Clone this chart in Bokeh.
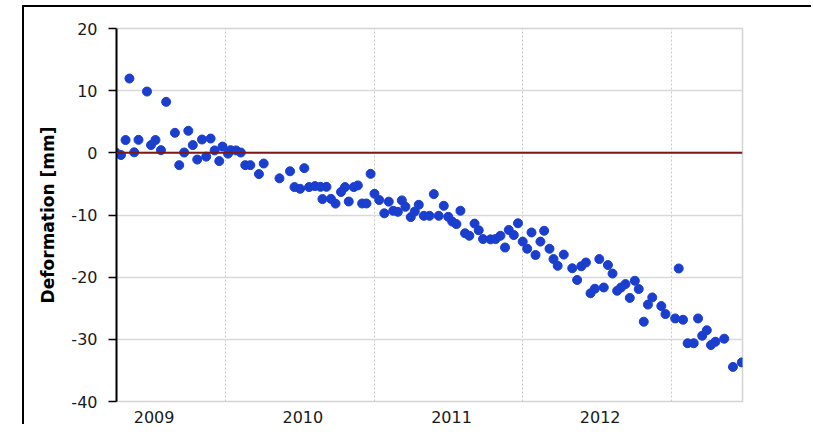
from bokeh.plotting import figure
from bokeh.models import FixedTicker, Span, Range1d
from bokeh.layouts import column
from bokeh.embed import file_html
from bokeh.resources import INLINE

# acquisition dates (decimal years) and deformation (mm)
dates = [
    2009.262, 2009.297, 2009.328, 2009.354, 2009.386, 2009.415, 2009.472, 2009.499, 2009.529, 2009.566,
    2009.601, 2009.660, 2009.689, 2009.722, 2009.750, 2009.780, 2009.810, 2009.842, 2009.870, 2009.900,
    2009.927, 2009.958, 2009.980, 2010.017, 2010.034, 2010.071, 2010.103, 2010.133, 2010.167, 2010.225,
    2010.257, 2010.363, 2010.434, 2010.464, 2010.502, 2010.530, 2010.562, 2010.601, 2010.639, 2010.652,
    2010.679, 2010.709, 2010.740, 2010.777, 2010.804, 2010.829, 2010.863, 2010.890, 2010.919, 2010.948,
    2010.976, 2011.002, 2011.034, 2011.068, 2011.098, 2011.128, 2011.159, 2011.186, 2011.210, 2011.246,
    2011.273, 2011.300, 2011.334, 2011.372, 2011.401, 2011.434, 2011.468, 2011.498, 2011.525, 2011.553,
    2011.580, 2011.611, 2011.640, 2011.675, 2011.703, 2011.732, 2011.782, 2011.816, 2011.849, 2011.880,
    2011.905, 2011.939, 2011.967, 2011.999, 2012.029, 2012.058, 2012.085, 2012.118, 2012.143, 2012.179,
    2012.206, 2012.234, 2012.275, 2012.332, 2012.365, 2012.393, 2012.424, 2012.455, 2012.484, 2012.514,
    2012.544, 2012.572, 2012.603, 2012.634, 2012.660, 2012.690, 2012.719, 2012.753, 2012.779, 2012.813,
    2012.841, 2012.870, 2012.931, 2012.959, 2013.024, 2013.048, 2013.077, 2013.108, 2013.149, 2013.178,
    2013.206, 2013.237, 2013.265, 2013.295, 2013.354, 2013.413, 2013.472,
]
deformation = [
    0.05, -0.35, 2.06, 11.95, 0.08, 2.09, 9.86, 1.25, 2.06, 0.43,
    8.20, 3.22, -1.98, 0.05, 3.54, 1.25, -1.08, 2.14, -0.61, 2.30,
    0.39, -1.33, 1.01, -0.13, 0.43, 0.39, 0.05, -1.98, -1.98, -3.42,
    -1.72, -4.10, -2.97, -5.51, -5.79, -2.46, -5.51, -5.35, -5.47, -7.44,
    -5.47, -7.40, -8.17, -6.30, -5.51, -7.83, -5.51, -5.24, -8.15, -8.15,
    -3.38, -6.59, -7.59, -9.73, -7.85, -9.32, -9.49, -7.65, -8.68, -10.34,
    -9.44, -8.36, -10.13, -10.13, -6.64, -10.13, -8.52, -10.29, -11.06, -11.46,
    -9.32, -12.94, -13.34, -11.38, -12.46, -13.87, -13.92, -13.87, -13.34, -15.23,
    -12.41, -13.23, -11.33, -14.28, -15.43, -12.81, -16.43, -14.28, -12.54, -15.43,
    -17.09, -18.17, -16.37, -18.57, -20.45, -18.25, -17.64, -22.59, -21.86, -17.09,
    -21.66, -18.05, -19.42, -22.19, -21.66, -21.11, -23.34, -20.58, -21.91, -27.17,
    -24.41, -23.26, -24.65, -25.93, -26.64, -18.60, -26.85, -30.63, -30.63, -26.64,
    -29.42, -28.54, -30.92, -30.39, -29.90, -34.44, -33.71,
]

year_labels = ["2009", "2010", "2011", "2012"]
year_label_pos = [2009.52, 2010.52, 2011.52, 2012.52]
year_boundaries = [2010, 2011, 2012, 2013]
y_ticks = [-40, -30, -20, -10, 0, 10, 20]
y_tick_labels = ["-40", "-30", "-20", "-10", "0", "10", "20"]
y_label = "Deformation [mm]"

FONT = "DejaVu Sans"

p = figure(
    width=781, height=419,
    x_range=Range1d(2009.267, 2013.477),
    y_range=Range1d(-40, 20),
    output_backend="svg", toolbar_location=None,
    min_border_left=92, min_border_top=21, min_border_right=63, min_border_bottom=25,
    background_fill_color="white", border_fill_color="white",
)

p.outline_line_color = "#d4d4d4"
p.outline_line_width = 1.5

# grids
p.ygrid.ticker = FixedTicker(ticks=y_ticks)
p.ygrid.grid_line_color = "#d9d9d9"
p.ygrid.grid_line_width = 1.5
p.xgrid.ticker = FixedTicker(ticks=year_boundaries)
p.xgrid.grid_line_color = "#c8c8c8"
p.xgrid.grid_line_width = 1
p.xgrid.grid_line_dash = "2 2"

# y axis
ya = p.yaxis[0]
ya.ticker = FixedTicker(ticks=y_ticks)
ya.major_label_overrides = {t: lab for t, lab in zip(y_ticks, y_tick_labels)}
ya.axis_line_color = "black"
ya.axis_line_width = 2
ya.major_tick_line_color = "black"
ya.major_tick_line_width = 1.5
ya.major_tick_out = 8
ya.major_tick_in = 0
ya.minor_tick_line_color = None
ya.major_label_text_font = FONT
ya.major_label_text_font_size = "16px"
ya.major_label_text_color = "#1a1a1a"
ya.major_label_standoff = 11
ya.axis_label = y_label
ya.axis_label_text_font = FONT
ya.axis_label_text_font_style = "bold"
ya.axis_label_text_font_size = "17px"
ya.axis_label_text_color = "black"
ya.axis_label_standoff = 10

# x axis
xa = p.xaxis[0]
xa.ticker = FixedTicker(ticks=year_label_pos)
xa.major_label_overrides = {pos: lab for pos, lab in zip(year_label_pos, year_labels)}
xa.axis_line_color = None
xa.major_tick_line_color = None
xa.minor_tick_line_color = None
xa.major_label_text_font = FONT
xa.major_label_text_font_size = "16px"
xa.major_label_text_color = "#1a1a1a"
xa.major_label_standoff = 3

# zero reference line
p.add_layout(Span(location=0, dimension="width", line_color="#7d1818", line_width=2))

p.scatter(dates, deformation, size=9, fill_color="#1a3fcf", line_color="#1a3fcf")

layout = column(
    p, width=789, height=419,
    styles={
        "margin-top": "7px",
        "margin-left": "24px",
        "box-shadow": "-2px -2px 0 0 #000",
    },
)

open("out.html", "w").write(file_html(layout, INLINE))
